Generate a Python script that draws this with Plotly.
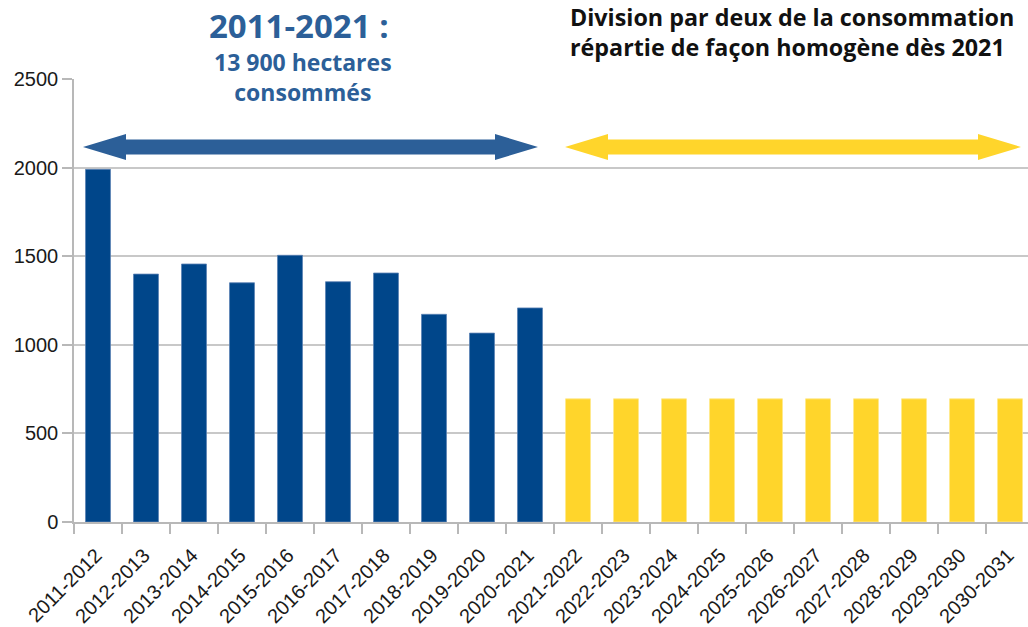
import plotly.graph_objects as go

periods_past = ["2011-2012", "2012-2013", "2013-2014", "2014-2015", "2015-2016",
                "2016-2017", "2017-2018", "2018-2019", "2019-2020", "2020-2021"]
values_past = [1990, 1399, 1456, 1350, 1505, 1356, 1405, 1172, 1066, 1208]

periods_future = ["2021-2022", "2022-2023", "2023-2024", "2024-2025", "2025-2026",
                  "2026-2027", "2027-2028", "2028-2029", "2029-2030", "2030-2031"]
values_future = [695, 695, 695, 695, 695, 695, 695, 695, 695, 695]

y_ticks = [0, 500, 1000, 1500, 2000, 2500]

# body margin is removed by post_script, so figure coords == page coords
W, H = 1028, 627
PLOT_L, PLOT_T, PLOT_B, PLOT_R = 74, 79, 522, 1028   # page pixels
L = PLOT_L
T = PLOT_T
B = H - PLOT_B
R = W - PLOT_R
PW = W - L - R
PH = H - T - B

def px(x):
    return (x - PLOT_L) / PW

def py(y):
    return (PLOT_B - y) / PH

BLUE = "#00468A"
ARROW_BLUE = "#2C5F98"
YELLOW = "#FFD52B"

fig = go.Figure()
fig.add_trace(go.Bar(x=periods_past, y=values_past,
                     marker=dict(color=BLUE, line=dict(color="#5a82b4", width=0.8)),
                     hoverinfo="x+y"))
fig.add_trace(go.Bar(x=periods_future, y=values_future,
                     marker=dict(color=YELLOW, line=dict(color="#ffe98a", width=0.8)),
                     hoverinfo="x+y"))

def arrow_path(x0, x1, yc, shaft=7.5, head=13, hl=43):
    pts = [(x0, yc), (x0 + hl, yc - head), (x0 + hl, yc - shaft), (x1 - hl, yc - shaft),
           (x1 - hl, yc - head), (x1, yc), (x1 - hl, yc + head), (x1 - hl, yc + shaft),
           (x0 + hl, yc + shaft), (x0 + hl, yc + head)]
    return "M " + " L ".join(f"{px(a):.5f},{py(b):.5f}" for a, b in pts) + " Z"

shapes = [
    dict(type="path", xref="paper", yref="paper", path=arrow_path(83, 538, 147),
         fillcolor=ARROW_BLUE, line=dict(width=0)),
    dict(type="path", xref="paper", yref="paper", path=arrow_path(565, 1021, 147),
         fillcolor=YELLOW, line=dict(width=0)),
]

TF = "Open Sans"
right_lines = ["Division par deux de la consommation", "répartie de façon homogène dès 2021"]
right_text = "<br>".join(f"<b>{s}</b>" for s in right_lines)

annotations = [
    dict(text="<b>2011-2021 :</b>", x=px(299), y=py(25), xref="paper", yref="paper",
         showarrow=False, xanchor="center", yanchor="middle",
         font=dict(family=TF, size=33, color=ARROW_BLUE)),
    dict(text="<b>13 900 hectares</b><br><b>consommés</b>", x=px(303), y=py(77), xref="paper", yref="paper",
         showarrow=False, xanchor="center", yanchor="middle", align="center",
         font=dict(family=TF, size=23, color=ARROW_BLUE)),
    dict(text=right_text, x=px(568), y=py(32.5), xref="paper", yref="paper",
         showarrow=False, xanchor="left", yanchor="middle", align="left",
         font=dict(family=TF, size=23.3, color="#111111")),
]

band = 48.0
fig.update_layout(
    width=W, height=H,
    margin=dict(l=L, r=R, t=T, b=B, pad=0),
    paper_bgcolor="white", plot_bgcolor="white",
    showlegend=False,
    barmode="overlay",
    bargap=0.48,
    shapes=shapes,
    annotations=annotations,
    xaxis=dict(
        type="category", automargin=False,
        categoryorder="array", categoryarray=periods_past + periods_future,
        range=[-0.5, -0.5 + PW / band],
        tickson="boundaries", ticks="outside", ticklen=10, tickcolor="#b8b8b8", tickwidth=1.5,
        showline=True, linecolor="#b8b8b8", linewidth=1.5,
        showgrid=False, tickangle=-45, ticklabelstandoff=12, ticklabelshift=-2,
        tickfont=dict(family="Liberation Sans", size=20, color="#1a1a1a"),
        fixedrange=True,
    ),
    yaxis=dict(
        range=[0, 2500], tickvals=y_ticks, automargin=False,
        ticks="outside", ticklen=10, tickcolor="#b8b8b8", tickwidth=1.5,
        showline=True, linecolor="#b8b8b8", linewidth=1.5,
        showgrid=True, gridcolor="#c8c8c8", gridwidth=1.5,
        zeroline=False,
        tickfont=dict(family="Liberation Sans", size=20, color="#1a1a1a"),
        fixedrange=True,
    ),
)

fig.write_html("out.html", config={"displayModeBar": False},
               post_script="document.body.style.margin='0px';")
